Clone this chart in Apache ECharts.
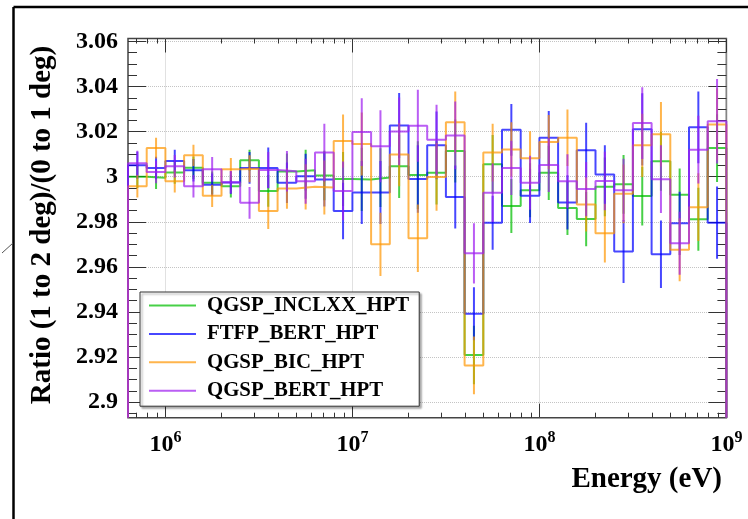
<!DOCTYPE html>
<html>
<head>
<meta charset="utf-8">
<script src="https://cdn.jsdelivr.net/npm/echarts@6/dist/echarts.min.js"></script>
<style>html,body{margin:0;padding:0;background:#fff;}#c{width:748px;height:519px;}</style>
</head>
<body>
<div id="c"></div>
<script>
// log10(Energy/eV) bin edges (0.1 decade bins)
const binEdgesExp = [5.8,5.9,6.0,6.1,6.2,6.3,6.4,6.5,6.6,6.7,6.8,6.9,7.0,7.1,7.2,7.3,7.4,7.5,7.6,7.7,7.8,7.9,8.0,8.1,8.2,8.3,8.4,8.5,8.6,8.7,8.8,8.9,9.0];
const seriesNames = ['QGSP_INCLXX_HPT','FTFP_BERT_HPT','QGSP_BIC_HPT','QGSP_BERT_HPT'];
const valGreen  = [3.000,2.9995,3.0019,3.004,2.9973,2.9958,3.0073,2.9937,3.0023,3.0029,3.0005,2.999,2.9988,2.9996,3.0046,3.0007,3.0017,3.0114,2.9209,3.0055,2.987,2.994,3.0017,2.9861,2.9812,2.9955,2.9966,2.9914,3.0068,2.992,2.9811,3.0127];
const valBlue   = [3.0051,3.0039,3.007,3.0029,2.9964,2.9974,3.0039,3.0039,2.9973,3.0002,2.9988,2.9848,2.993,2.993,3.0227,2.999,3.0139,2.991,2.9392,2.9796,3.0208,2.9915,3.0173,2.9886,3.0117,3.001,2.9668,3.021,2.9656,2.9793,3.0219,2.9796];
const valOrange = [2.9958,3.0127,2.998,3.0095,2.9915,3.0033,3.0035,2.9848,2.9948,2.9955,2.9952,3.0158,3.0145,2.970,3.0098,2.9727,2.9999,3.0241,2.9163,3.0107,3.0121,3.0082,3.0154,3.0173,2.9877,2.9749,2.9924,3.0139,3.0188,2.9676,2.9865,3.0232];
const valPurple = [3.006,3.0021,3.0046,2.9958,3.0033,2.9975,2.9884,3.003,3.0024,2.998,3.0107,2.9937,3.0198,3.0135,3.0201,3.0226,3.0164,3.0183,2.966,2.9929,3.0039,2.9973,3.0052,2.998,2.9945,2.9981,2.994,3.0238,2.9989,2.9705,3.012,3.0246];
const errGreen  = [0.005,0.005,0.005,0.005,0.005,0.005,0.0047,0.007,0.008,0.009,0.011,0.012,0.014,0.013,0.014,0.015,0.014,0.014,0.013,0.013,0.012,0.012,0.012,0.012,0.012,0.013,0.013,0.013,0.013,0.0116,0.014,0.015];
const errBlue   = [0.006,0.005,0.005,0.005,0.005,0.005,0.007,0.009,0.009,0.010,0.012,0.0125,0.014,0.014,0.0144,0.015,0.015,0.014,0.0118,0.012,0.0115,0.012,0.0118,0.012,0.0122,0.013,0.014,0.016,0.015,0.014,0.0159,0.016];
const errOrange = [0.005,0.0046,0.005,0.0047,0.0049,0.005,0.006,0.008,0.009,0.010,0.012,0.0118,0.014,0.014,0.014,0.015,0.015,0.0137,0.0128,0.0128,0.012,0.012,0.012,0.0125,0.012,0.013,0.013,0.014,0.0143,0.014,0.015,0.016];
const errPurple = [0.0055,0.005,0.005,0.005,0.0054,0.005,0.007,0.008,0.009,0.010,0.0128,0.013,0.015,0.016,0.015,0.016,0.0155,0.015,0.0134,0.013,0.012,0.012,0.012,0.012,0.012,0.013,0.014,0.0159,0.015,0.014,0.015,0.0187];
const xMajorTicks = [6,7,8,9];
const yTickLabels = [2.90,2.92,2.94,2.96,2.98,3.00,3.02,3.04,3.06];
const yMin = 2.8931, yMax = 3.0613;

const colors = ['rgba(0,190,0,0.72)','rgba(0,0,255,0.72)','rgba(255,150,0,0.7)','rgba(160,32,240,0.72)'];
const values = [valGreen, valBlue, valOrange, valPurple];
const errors = [errGreen, errBlue, errOrange, errPurple];

const xMinorTicks = [];
for (let d = 5; d <= 8; d++) for (let k = 2; k <= 9; k++) {
  const v = d + Math.log10(k);
  if (v > binEdgesExp[0] && v < binEdgesExp[binEdgesExp.length-1]) xMinorTicks.push(v);
}
const yMinorTicks = [];
for (let i = 0; i <= 40; i++) { const v = +(2.86 + i*0.005).toFixed(3); if (v > yMin && v < yMax) yMinorTicks.push(v); }

const FONT = 'Liberation Serif';
function stepData(vals){
  const d = [[binEdgesExp[0], yMin]];
  for (let i = 0; i < vals.length; i++) { d.push([binEdgesExp[i], vals[i]]); d.push([binEdgesExp[i+1], vals[i]]); }
  d.push([binEdgesExp[binEdgesExp.length-1], yMin]);
  return d;
}
function errData(vals, errs){
  return vals.map((v,i)=>[(binEdgesExp[i]+binEdgesExp[i+1])/2, v-errs[i], v+errs[i]]);
}
const series = [];
for (let s = 0; s < 4; s++) {
  series.push({
    name: seriesNames[s], type:'line', data: stepData(values[s]), showSymbol:false, symbol:'none',
    color: colors[s], lineStyle:{color: colors[s], width:2}, clip:true, animation:false, z: 2+s
  });
  const col = colors[s];
  series.push({
    name: seriesNames[s]+' err', type:'custom', data: errData(values[s], errors[s]), clip:true, animation:false, z:2+s,
    encode:{x:0, y:[1,2]},
    renderItem: function(params, api){
      const p1 = api.coord([api.value(0), api.value(1)]);
      const p2 = api.coord([api.value(0), api.value(2)]);
      return {type:'line', shape:{x1:p1[0], y1:p1[1], x2:p2[0], y2:p2[1]}, style:{stroke: col, lineWidth:2}};
    }
  });
}

function xAx(pos, ticks, len, labels){
  return {type:'value', min: binEdgesExp[0], max: binEdgesExp[binEdgesExp.length-1], position: pos,
    axisLine:{show:false},
    axisTick:{show:true, inside:true, length:len, customValues: ticks, lineStyle:{color:'#333', width:1}},
    axisLabel: labels ? {show:true, customValues: xMajorTicks, margin:12, formatter: v => '{b|10}{s|'+Math.round(v)+'}',
      rich:{b:{fontFamily:FONT, fontWeight:'bold', fontSize:24, color:'#000', lineHeight:30},
            s:{fontFamily:FONT, fontWeight:'bold', fontSize:16, color:'#000', verticalAlign:'top', lineHeight:18}}} : {show:false},
    splitLine: labels ? {show:true, lineStyle:{type:'dotted', color:'#c4c4c4', width:1}} : {show:false}
  };
}
function yAx(pos, ticks, len, labels){
  return {type:'value', min:yMin, max:yMax, position: pos,
    axisLine:{show:false},
    axisTick:{show:true, inside:true, length:len, customValues: ticks, lineStyle:{color:'#333', width:1}},
    axisLabel: labels ? {show:true, customValues: yTickLabels, margin:10, fontFamily:FONT, fontWeight:'bold', fontSize:24, color:'#000',
      formatter: v => String(Number(v.toFixed(2)))} : {show:false},
    splitLine: labels ? {show:true, lineStyle:{type:'dotted', color:'#c4c4c4', width:1}} : {show:false}
  };
}

const chart = echarts.init(document.getElementById('c'), null, {renderer:'canvas'});
chart.setOption({
  backgroundColor:'#fff',
  animation:false,
  grid:{left:128, right:21.6, top:38.5, bottom:101.3, show:true, borderColor:'#444', borderWidth:1.5, backgroundColor:'#fff'},
  xAxis:[xAx('bottom', xMajorTicks, 14, true), xAx('bottom', xMinorTicks, 5, false), xAx('top', xMajorTicks, 14, false), xAx('top', xMinorTicks, 5, false)],
  yAxis:[yAx('left', yTickLabels, 18, true), yAx('left', yMinorTicks, 9, false), yAx('right', yTickLabels, 18, false), yAx('right', yMinorTicks, 9, false)],
  legend:{data: seriesNames, orient:'vertical', left:140, top:292, icon:'rect', itemWidth:47, itemHeight:2, itemGap:7.4,
    padding:[3,10,5,9], backgroundColor:'#fff', borderColor:'#333', borderWidth:1,
    shadowColor:'rgba(0,0,0,0.35)', shadowOffsetX:2, shadowOffsetY:2, shadowBlur:2,
    textStyle:{fontFamily:FONT, fontWeight:'bold', fontSize:20.8, color:'#000', lineHeight:20, padding:[0,0,0,6]}},
  graphic:[
    {type:'line', shape:{x1:13.5, y1:7, x2:748, y2:7}, style:{stroke:'#000', lineWidth:2.5}, z:100},
    {type:'line', shape:{x1:13.5, y1:7, x2:13.5, y2:519}, style:{stroke:'#000', lineWidth:2.5}, z:100},
    {type:'line', shape:{x1:2, y1:253, x2:13, y2:243}, style:{stroke:'#555', lineWidth:1}, z:100},
    {type:'text', x:722, y:480, style:{text:'Energy (eV)', fontFamily:FONT, fontWeight:'bold', fontSize:29, fill:'#000', align:'right', verticalAlign:'middle'}, z:100},
    {type:'text', x:43, y:225, rotation:Math.PI/2, style:{text:'Ratio (1 to 2 deg)/(0 to 1 deg)', fontFamily:FONT, fontWeight:'bold', fontSize:29, fill:'#000', align:'center', verticalAlign:'middle'}, z:100}
  ],
  series: series
});
</script>
</body>
</html>
